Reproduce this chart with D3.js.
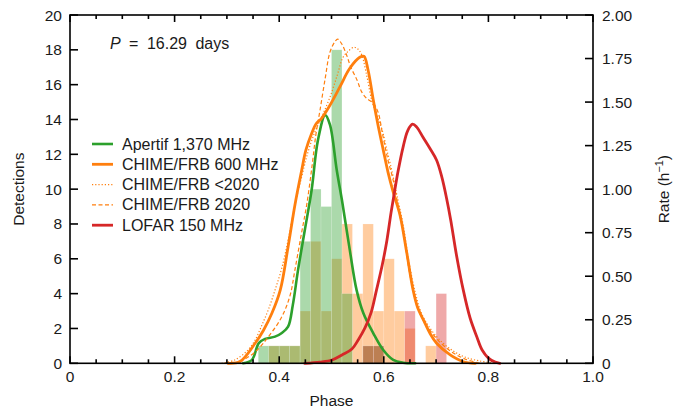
<!DOCTYPE html>
<html><head><meta charset="utf-8">
<script src="https://cdn.jsdelivr.net/npm/d3@7"></script>
<style>
html,body{margin:0;padding:0;background:#fff;}
svg{display:block;font-family:"Liberation Sans",Arial,Helvetica,sans-serif;}
</style></head>
<body><svg id="c" width="683" height="412"></svg>
<script>
// ---- data ----
const binStarts = [0.36,0.38,0.40,0.42,0.44,0.46,0.48,0.50,0.52,0.54,0.56,0.58,0.60,0.62,0.64,0.66,0.68,0.70];
const binWidth = 0.02;
const apertifCounts = [1,1,1,1,7,10,9,18,4,0,1,1,0,0,0,0,0,0];
const chimeCounts   = [0,1,1,1,3,7,3,6,8,4,8,3,6,3,2,0,1,0];
const lofarCounts   = [0,0,0,0,0,0,0,0,0,0,1,1,0,0,3,0,0,4];

const apertifPhase = [0.331,0.348,0.361,0.373,0.392,0.405,0.417,0.426,0.436,0.449,0.462,0.474,0.488,0.497,0.510,0.521,0.535,0.548,0.561,0.580,0.599,0.618,0.637,0.66];
const apertifRate  = [0,0.02,0.116,0.14,0.153,0.174,0.21,0.334,0.535,0.765,0.995,1.28,1.425,1.37,1.11,0.918,0.65,0.42,0.287,0.172,0.076,0.019,0.003,0];

const chimePhase = [0.302,0.325,0.354,0.37,0.386,0.402,0.417,0.430,0.443,0.451,0.462,0.47,0.481,0.497,0.516,0.535,0.554,0.562,0.570,0.580,0.589,0.599,0.608,0.618,0.631,0.644,0.656,0.665,0.676,0.688,0.701,0.727,0.752,0.775];
const chimeRate  = [0,0.01,0.115,0.19,0.287,0.42,0.669,0.908,1.109,1.224,1.32,1.373,1.407,1.482,1.587,1.694,1.757,1.763,1.683,1.51,1.367,1.224,1.098,0.983,0.851,0.633,0.421,0.317,0.248,0.174,0.115,0.048,0.009,0];

const chimePre2020Phase = [0.29,0.315,0.340,0.354,0.367,0.379,0.392,0.405,0.417,0.430,0.443,0.455,0.468,0.482,0.497,0.511,0.522,0.532,0.543,0.551,0.558,0.568,0.577,0.587,0.597,0.606,0.616,0.625,0.637,0.648,0.660,0.671,0.688,0.707,0.730,0.755,0.784,0.813];
const chimePre2020Rate  = [0,0.019,0.076,0.134,0.22,0.306,0.42,0.547,0.707,0.908,1.071,1.212,1.327,1.419,1.528,1.654,1.757,1.792,1.815,1.803,1.769,1.643,1.51,1.424,1.338,1.224,1.098,0.966,0.794,0.582,0.41,0.294,0.203,0.134,0.076,0.036,0.013,0];

const chime2020Phase = [0.325,0.354,0.379,0.405,0.421,0.430,0.442,0.453,0.463,0.470,0.478,0.488,0.497,0.507,0.512,0.520,0.529,0.537,0.549,0.558,0.567,0.580,0.589,0.598,0.608,0.618,0.627,0.639,0.650,0.662,0.673,0.688,0.707,0.730,0.755,0.784];
const chime2020Rate  = [0.007,0.065,0.151,0.267,0.392,0.535,0.736,0.918,1.138,1.31,1.453,1.637,1.786,1.849,1.861,1.832,1.769,1.70,1.625,1.557,1.522,1.493,1.442,1.31,1.166,1.051,0.908,0.719,0.507,0.352,0.26,0.191,0.122,0.065,0.025,0];

const lofarPhase = [0.449,0.478,0.501,0.520,0.539,0.551,0.564,0.576,0.586,0.597,0.606,0.614,0.621,0.627,0.637,0.646,0.655,0.663,0.675,0.688,0.701,0.711,0.720,0.728,0.739,0.752,0.765,0.778,0.788,0.800,0.813,0.822];
const lofarRate  = [0,0.007,0.019,0.048,0.082,0.134,0.203,0.294,0.42,0.564,0.707,0.868,0.994,1.098,1.243,1.338,1.373,1.356,1.298,1.235,1.166,1.069,0.948,0.822,0.621,0.42,0.26,0.151,0.076,0.03,0.007,0];

const xTicks = [0,0.2,0.4,0.6,0.8,1.0];
const xTickLabels = ["0","0.2","0.4","0.6","0.8","1.0"];
const yLeftTicks = [0,2,4,6,8,10,12,14,16,18,20];
const yRightTicks = [0,0.25,0.5,0.75,1.0,1.25,1.5,1.75,2.0];
const yRightLabels = ["0","0.25","0.50","0.75","1.00","1.25","1.50","1.75","2.00"];

const legendLabels = ["Apertif 1,370 MHz","CHIME/FRB 600 MHz","CHIME/FRB <2020","CHIME/FRB 2020","LOFAR 150 MHz"];

// ---- layout ----
const L=70, R=593, T=15, B=363.3;
const green="#2ca02c", orange="#ff7f0e", red="#d62728";
const svg = d3.select("#c");
const x = d3.scaleLinear().domain([0,1]).range([L,R]);
const yL = d3.scaleLinear().domain([0,20]).range([B,T]);
const yR = d3.scaleLinear().domain([0,2]).range([B,T]);
const FS = 15.5;

// histograms: CHIME, Apertif, LOFAR
function hist(counts, color){
  svg.append("g").selectAll("rect").data(binStarts.map((b,i)=>({b,c:counts[i]})).filter(d=>d.c>0))
   .join("rect")
   .attr("x",d=>x(d.b)).attr("width",d=>x(d.b+binWidth)-x(d.b))
   .attr("y",d=>yL(d.c)).attr("height",d=>yL(0)-yL(d.c))
   .attr("fill",color).attr("fill-opacity",0.4)
   .attr("stroke","#fff").attr("stroke-opacity",0.25).attr("stroke-width",0.6);
}
hist(chimeCounts, orange);
hist(apertifCounts, green);
hist(lofarCounts, red);

// curves
const line = d3.line().x(d=>x(d[0])).y(d=>yR(d[1])).curve(d3.curveCatmullRom.alpha(0.5));
function curve(ph, rt, color, w, dash){
  const p = svg.append("path").datum(ph.map((v,i)=>[v,rt[i]]))
    .attr("d",line).attr("fill","none").attr("stroke",color).attr("stroke-width",w)
    .attr("stroke-linejoin","round").attr("stroke-linecap", dash? "butt":"round");
  if(dash) p.attr("stroke-dasharray",dash);
}
curve(apertifPhase, apertifRate, green, 2.6);
curve(chimePhase, chimeRate, orange, 2.8);
curve(chimePre2020Phase, chimePre2020Rate, orange, 1.2, "1.2,2");
curve(chime2020Phase, chime2020Rate, orange, 1.2, "4,2.5");
curve(lofarPhase, lofarRate, red, 2.8);

// axes frame
const axG = svg.append("g").attr("stroke","#000").attr("stroke-width",1.6).attr("fill","none");
axG.append("rect").attr("x",L).attr("y",T).attr("width",R-L).attr("height",B-T);

// x ticks (bottom & top), inward
const minorX = d3.range(0,1.0001,0.05);
minorX.forEach(v=>{
  const major = Math.abs(v/0.2 - Math.round(v/0.2))<1e-6;
  const len = major?7:4;
  axG.append("line").attr("x1",x(v)).attr("x2",x(v)).attr("y1",B).attr("y2",B-len);
  axG.append("line").attr("x1",x(v)).attr("x2",x(v)).attr("y1",T).attr("y2",T+len);
});
yLeftTicks.forEach(v=>{
  axG.append("line").attr("x1",L).attr("x2",L+8).attr("y1",yL(v)).attr("y2",yL(v));
});
yRightTicks.forEach(v=>{
  axG.append("line").attr("x1",R).attr("x2",R-8).attr("y1",yR(v)).attr("y2",yR(v));
});

const tG = svg.append("g").attr("fill","#1a1a1a").attr("font-size",FS);
xTicks.forEach((v,i)=>{
  tG.append("text").attr("x",x(v)).attr("y",B+18.5).attr("text-anchor","middle").text(xTickLabels[i]);
});
yLeftTicks.forEach(v=>{
  tG.append("text").attr("x",L-8).attr("y",yL(v)+5.5).attr("text-anchor","end").text(v);
});
yRightTicks.forEach((v,i)=>{
  tG.append("text").attr("x",R+9).attr("y",yR(v)+5.5).attr("text-anchor","start").text(yRightLabels[i]);
});

// axis labels
tG.append("text").attr("x",(L+R)/2).attr("y",406).attr("text-anchor","middle").text("Phase");
tG.append("text").attr("transform",`translate(24,${(T+B)/2}) rotate(-90)`).attr("text-anchor","middle").text("Detections");
const rl = tG.append("text").attr("transform",`translate(669,${(T+B)/2}) rotate(-90)`).attr("text-anchor","middle");
rl.append("tspan").text("Rate (h");
rl.append("tspan").attr("font-size",FS*0.7).attr("dy",-6).text("\u22121");
rl.append("tspan").attr("dy",6).text(")");

// period annotation
const pt = tG.append("text").attr("x",110).attr("y",49).attr("font-size",16).attr("word-spacing",4);
pt.append("tspan").attr("font-style","italic").text("P");
pt.append("tspan").text(" = 16.29 days");

// legend
const legY0 = 144, legDy = 20.3;
const legStyles = [
  {c:green,w:2.6,d:null},{c:orange,w:2.8,d:null},{c:orange,w:1.2,d:"1.2,2"},{c:orange,w:1.2,d:"4,2.5"},{c:red,w:2.8,d:null}
];
legendLabels.forEach((lab,i)=>{
  const yy = legY0 + i*legDy;
  const ln = svg.append("line").attr("x1",92).attr("x2",113).attr("y1",yy).attr("y2",yy)
    .attr("stroke",legStyles[i].c).attr("stroke-width",legStyles[i].w);
  if(legStyles[i].d) ln.attr("stroke-dasharray",legStyles[i].d);
  tG.append("text").attr("x",122).attr("y",yy+5.5).attr("font-size",16).text(lab);
});
</script></body></html>
